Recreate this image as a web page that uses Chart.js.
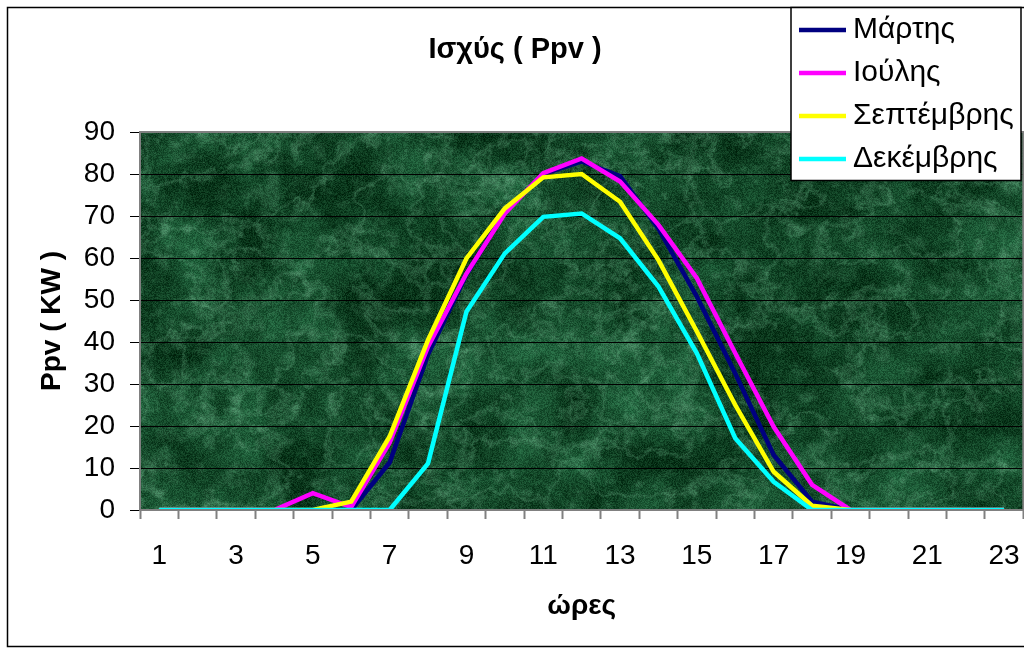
<!DOCTYPE html>
<html>
<head>
<meta charset="utf-8">
<script src="https://cdn.jsdelivr.net/npm/chart.js@4/dist/chart.umd.min.js"></script>
<style>
  html, body { margin: 0; padding: 0; background: #ffffff; overflow: hidden; }
  #wrap { width: 1024px; height: 649px; overflow: hidden; position: relative; }
  canvas { display: block; }
</style>
</head>
<body>
<div id="wrap"><canvas id="chart" width="1040" height="649"></canvas></div>
<script>
// Hours of the day (x axis categories)
const hours = ['1','2','3','4','5','6','7','8','9','10','11','12','13','14','15','16','17','18','19','20','21','22','23'];

// Output power Ppv (kW) per hour for each month
const marchPpv     = [0,0,0,0,0,0,11.3,37,56,71,80,83,79.5,67,50.8,32.5,13.1,2,0,0,0,0,0];
const julyPpv      = [0,0,0,0,4,0.7,16,38.9,56.3,70.6,80.2,83.7,78.2,67.9,55.2,37.3,19.8,6,0,0,0,0,0];
const septemberPpv = [0,0,0,0,0,2,17.5,40.5,59.9,71.8,79.2,80,73.4,59.5,42.5,25,9.1,1,0,0,0,0,0];
const decemberPpv  = [0,0,0,0,0,0,0,11.1,47.2,61.1,69.8,70.6,64.7,53.2,37.3,17.1,6.7,0,0,0,0,0,0];

const seriesNames  = ['Μάρτης','Ιούλης','Σεπτέμβρης','Δεκέμβρης'];
const seriesColors = ['#000080','#ff00ff','#ffff00','#00ffff'];

const yTicks = { min: 0, max: 90, step: 10 };

const FONT = "'Liberation Sans', Arial, sans-serif";

// Green marble texture for the plot background (hashed value noise)
function makeMarble(w, h) {
  const c = document.createElement('canvas');
  c.width = w; c.height = h;
  const g = c.getContext('2d');
  const img = g.createImageData(w, h);
  const d = img.data;

  const hash = (ix, iy, seed) => {
    let v = Math.imul(ix, 374761393) + Math.imul(iy, 668265263) + Math.imul(seed, 1442695041);
    v = Math.imul(v ^ (v >>> 13), 1274126177);
    v ^= v >>> 16;
    return (v >>> 0) / 4294967296;
  };
  const noise = (x, y, seed) => {
    const xi = Math.floor(x), yi = Math.floor(y);
    const fx = x - xi, fy = y - yi;
    const u = fx * fx * (3 - 2 * fx), v = fy * fy * (3 - 2 * fy);
    const a = hash(xi, yi, seed), b = hash(xi + 1, yi, seed);
    const c2 = hash(xi, yi + 1, seed), e = hash(xi + 1, yi + 1, seed);
    return (a + (b - a) * u) * (1 - v) + (c2 + (e - c2) * u) * v;
  };
  const fbm = (x, y, seed, oct) => {
    let sum = 0, amp = 1, norm = 0, f = 1;
    for (let o = 0; o < oct; o++) {
      sum += amp * noise(x * f, y * f, seed + o * 17);
      norm += amp; amp *= 0.6; f *= 2.03;
    }
    return sum / norm;
  };
  const clamp = (t) => Math.max(0, Math.min(1, t));
  const smooth = (e0, e1, t) => { t = clamp((t - e0) / (e1 - e0)); return t * t * (3 - 2 * t); };

  const dark = [8, 50, 24], mid = [34, 100, 62], light = [92, 156, 118];
  for (let y = 0; y < h; y++) {
    for (let x = 0; x < w; x++) {
      const base = fbm(x / 55, y / 55, 3, 6);
      const wx = x + 30 * fbm(x / 90, y / 90, 41, 3);
      const wy = y + 30 * fbm(x / 90 + 9, y / 90, 53, 3);
      const n2 = fbm(wx / 45, wy / 40, 71, 5);
      const ridge = 1 - Math.abs(2 * n2 - 1);
      const vein = smooth(0.86, 1.0, ridge);
      const spot = smooth(0.5, 0.8, fbm(x / 12, y / 12, 97, 3));
      let t = clamp((base - 0.3) * 2.0);
      let r = dark[0] + (mid[0] - dark[0]) * t;
      let gg = dark[1] + (mid[1] - dark[1]) * t;
      let b = dark[2] + (mid[2] - dark[2]) * t;
      const lt = clamp(vein * 0.28 + spot * 0.3 * (0.4 + t));
      r += (light[0] - r) * lt; gg += (light[1] - gg) * lt; b += (light[2] - b) * lt;
      const grain = (hash(x, y, 7) - 0.5) * 40;
      const i = (y * w + x) * 4;
      d[i]     = r + grain * 0.6;
      d[i + 1] = gg + grain;
      d[i + 2] = b + grain * 0.75;
      d[i + 3] = 255;
    }
  }
  g.putImageData(img, 0, 0);
  return c;
}

let marble = null;
const backgroundPlugin = {
  id: 'plotBackground',
  beforeDraw(chart) {
    const { ctx, chartArea: a } = chart;
    ctx.save();
    ctx.fillStyle = '#ffffff';
    ctx.fillRect(0, 0, chart.width, chart.height);
    const w = Math.ceil(a.right - a.left), h = Math.ceil(a.bottom - a.top);
    if (!marble || marble.width !== w || marble.height !== h) marble = makeMarble(w, h);
    ctx.drawImage(marble, a.left, a.top);
    ctx.restore();
  },
  afterDraw(chart) {
    const { ctx, chartArea: a } = chart;
    ctx.save();
    // plot frame
    ctx.strokeStyle = '#808080';
    ctx.lineWidth = 2;
    ctx.strokeRect(a.left, a.top, a.right - a.left, a.bottom - a.top);
    // chart frame
    ctx.strokeStyle = '#000000';
    ctx.lineWidth = 1.5;
    ctx.strokeRect(7.5, 7.5, 1026, 639);
    // legend box
    const lx = 791, ly = 7.5, lw = 230, lh = 173;
    ctx.fillStyle = '#ffffff';
    ctx.fillRect(lx, ly, lw, lh);
    ctx.strokeStyle = '#000000';
    ctx.lineWidth = 1.5;
    ctx.strokeRect(lx, ly, lw, lh);
    ctx.font = '30px ' + FONT;
    ctx.textBaseline = 'middle';
    ctx.textAlign = 'left';
    chart.data.datasets.forEach((ds, i) => {
      const y = 30 + i * 43;
      ctx.strokeStyle = ds.borderColor;
      ctx.lineWidth = 4.5;
      ctx.beginPath();
      ctx.moveTo(799, y);
      ctx.lineTo(846, y);
      ctx.stroke();
      ctx.fillStyle = '#000000';
      ctx.fillText(ds.label, 853, y);
    });
    ctx.restore();
  }
};

const seriesData = [marchPpv, julyPpv, septemberPpv, decemberPpv];

new Chart(document.getElementById('chart'), {
  type: 'line',
  data: {
    labels: hours,
    datasets: seriesData.map((vals, i) => ({
      label: seriesNames[i],
      data: vals,
      borderColor: seriesColors[i],
      backgroundColor: seriesColors[i],
      borderWidth: 4.5,
      pointRadius: 0,
      tension: 0,
      fill: false,
      order: seriesData.length - i
    }))
  },
  options: {
    responsive: false,
    animation: false,
    devicePixelRatio: 1,
    layout: { padding: { left: 4.5, right: 14.5, top: 0, bottom: 0 } },
    plugins: {
      legend: { display: false },
      tooltip: { enabled: false },
      title: {
        display: true,
        text: 'Ισχύς ( Ppv )',
        color: '#000000',
        font: { family: FONT, size: 29, weight: 'bold' },
        padding: { top: 32.6, bottom: 64.6 }
      }
    },
    scales: {
      x: {
        type: 'category',
        offset: true,
        grid: {
          offset: true,
          drawOnChartArea: false,
          drawTicks: true,
          tickLength: 9,
          tickColor: '#808080',
          tickWidth: 2
        },
        border: { color: '#808080', width: 2 },
        ticks: {
          autoSkip: false,
          maxRotation: 0,
          minRotation: 0,
          padding: 20,
          color: '#000000',
          font: { family: FONT, size: 28 },
          callback: (v, idx) => (idx % 2 === 0 ? hours[idx] : '')
        },
        title: {
          display: true,
          text: 'ώρες',
          color: '#000000',
          font: { family: FONT, size: 28, weight: 'bold' },
          padding: { top: 0, bottom: 26 }
        },
        afterFit(scale) { scale.height = 139; }
      },
      y: {
        min: yTicks.min,
        max: yTicks.max,
        grid: {
          color: '#000000',
          lineWidth: 1,
          drawTicks: true,
          tickLength: 10,
          tickColor: '#000000'
        },
        border: { color: '#808080', width: 2 },
        ticks: {
          stepSize: yTicks.step,
          padding: 15,
          color: '#000000',
          font: { family: FONT, size: 28 }
        },
        title: {
          display: true,
          text: 'Ppv ( KW )',
          color: '#000000',
          font: { family: FONT, size: 28, weight: 'bold' },
          padding: { top: 31, bottom: 0 }
        },
        afterFit(scale) { scale.width = 135.5; }
      }
    }
  },
  plugins: [backgroundPlugin]
});
</script>
</body>
</html>
